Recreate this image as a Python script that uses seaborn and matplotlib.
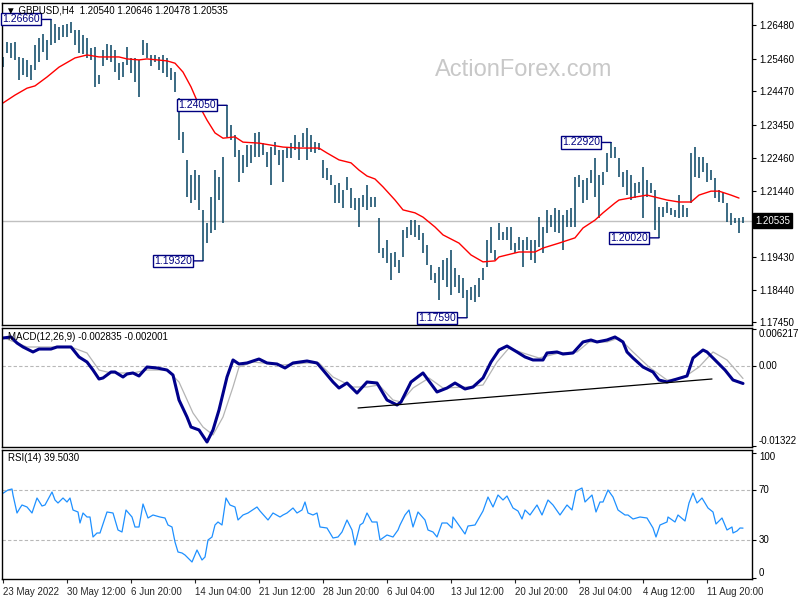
import seaborn as sns
import matplotlib.pyplot as plt
import matplotlib.transforms as mtransforms

sns.set_style("white")
plt.rcParams['font.family'] = ['Liberation Sans', 'DejaVu Sans']

# GBPUSD H4 bars (high / low), one entry every second bar
highs = [1.2552, 1.2597, 1.2594, 1.2597, 1.2552, 1.2549, 1.2543, 1.2527, 1.2588, 1.2609,
         1.2622, 1.2603, 1.2666, 1.2652, 1.2643, 1.2649, 1.2652, 1.2658, 1.2634, 1.2634,
         1.2619, 1.2609, 1.2579, 1.2582, 1.2497, 1.2573, 1.2591, 1.2588, 1.2573, 1.2533,
         1.2537, 1.2582, 1.2549, 1.2549, 1.2543, 1.2603, 1.2594, 1.2558, 1.2558, 1.2552,
         1.2558, 1.2549, 1.2518, 1.2506, 1.2427, 1.2324, 1.2239, 1.2193, 1.2208, 1.2193,
         1.2087, 1.2047, 1.2126, 1.2208, 1.2187, 1.2248, 1.2405, 1.2345, 1.2315, 1.2269,
         1.2254, 1.2284, 1.2284, 1.2321, 1.2324, 1.2290, 1.2263, 1.2278, 1.2293, 1.2269,
         1.2269, 1.2275, 1.2290, 1.2315, 1.2293, 1.2321, 1.2336, 1.2315, 1.2293, 1.2290,
         1.2239, 1.2214, 1.2193, 1.2163, 1.2169, 1.2148, 1.2187, 1.2154, 1.2123, 1.2123,
         1.2132, 1.2163, 1.2126, 1.2126, 1.2062, 1.1971, 1.1995, 1.1956, 1.1959, 1.1935,
         1.2026, 1.2035, 1.2056, 1.2056, 1.2041, 1.2017, 1.1980, 1.1919, 1.1895, 1.1913,
         1.1935, 1.1941, 1.1965, 1.1910, 1.1889, 1.1880, 1.1843, 1.1853, 1.1859, 1.1880,
         1.1910, 1.1995, 1.2035, 1.1965, 1.2047, 1.2020, 1.2035, 1.2035, 1.1986, 1.2005,
         1.1995, 1.2005, 1.1995, 1.1995, 1.2065, 1.2035, 1.2087, 1.2071, 1.2093, 1.2087,
         1.2071, 1.2087, 1.2093, 1.2187, 1.2193, 1.2178, 1.2184, 1.2208, 1.2245, 1.2193,
         1.2202, 1.2260, 1.2292, 1.2278, 1.2245, 1.2202, 1.2208, 1.2193, 1.2169, 1.2172,
         1.2217, 1.2178, 1.2169, 1.2148, 1.2096, 1.2096, 1.2111, 1.2093, 1.2087, 1.2132,
         1.2102, 1.2093, 1.2260, 1.2278, 1.2248, 1.2248, 1.2230, 1.2208, 1.2184, 1.2148,
         1.2139, 1.2108, 1.2078, 1.2062, 1.2062, 1.2065]
lows = [1.2521, 1.2564, 1.2549, 1.2543, 1.2482, 1.2497, 1.2491, 1.2482, 1.2512, 1.2537,
        1.2567, 1.2543, 1.2588, 1.2594, 1.2603, 1.2613, 1.2613, 1.2625, 1.2588, 1.2564,
        1.2561, 1.2549, 1.2543, 1.2461, 1.2470, 1.2524, 1.2543, 1.2537, 1.2506, 1.2482,
        1.2491, 1.2527, 1.2503, 1.2476, 1.2430, 1.2558, 1.2549, 1.2524, 1.2537, 1.2512,
        1.2503, 1.2491, 1.2482, 1.2445, 1.2299, 1.2260, 1.2126, 1.2108, 1.2117, 1.2087,
        1.1932, 1.1986, 1.2017, 1.2026, 1.2117, 1.2047, 1.2309, 1.2299, 1.2248, 1.2172,
        1.2199, 1.2217, 1.2230, 1.2248, 1.2248, 1.2254, 1.2217, 1.2163, 1.2254, 1.2223,
        1.2172, 1.2245, 1.2245, 1.2269, 1.2239, 1.2278, 1.2239, 1.2263, 1.2260, 1.2269,
        1.2184, 1.2178, 1.2163, 1.2108, 1.2108, 1.2093, 1.2148, 1.2093, 1.2087, 1.2035,
        1.2096, 1.2087, 1.2096, 1.2096, 1.1956, 1.1941, 1.1925, 1.1874, 1.1913, 1.1895,
        1.1944, 1.2002, 1.2011, 1.2005, 1.1995, 1.1956, 1.1919, 1.1874, 1.1865, 1.1813,
        1.1874, 1.1853, 1.1828, 1.1853, 1.1834, 1.1819, 1.1759, 1.1813, 1.1807, 1.1822,
        1.1874, 1.1913, 1.1956, 1.1935, 1.1995, 1.1995, 1.1995, 1.1965, 1.1956, 1.1965,
        1.1913, 1.1965, 1.1935, 1.1925, 1.1974, 1.1956, 1.2017, 1.2035, 1.2020, 1.2017,
        1.1965, 1.2035, 1.2035, 1.2035, 1.2157, 1.2108, 1.2117, 1.2169, 1.2126, 1.2062,
        1.2163, 1.2202, 1.2245, 1.2245, 1.2187, 1.2157, 1.2132, 1.2117, 1.2123, 1.2139,
        1.2062, 1.2126, 1.2139, 1.2026, 1.2002, 1.2065, 1.2078, 1.2071, 1.2065, 1.2062,
        1.2065, 1.2065, 1.2108, 1.2187, 1.2184, 1.2202, 1.2172, 1.2178, 1.2123, 1.2111,
        1.2108, 1.2050, 1.2041, 1.2047, 1.2017, 1.2048]
bar_idx = list(range(len(highs)))

# moving average (red)
ma_idx = [0, 3, 6, 8, 11, 14, 18, 21, 24, 27,
          29, 31, 34, 36, 41, 43, 45, 47, 49, 51,
          53, 55, 58, 60, 64, 67, 70, 74, 79, 81,
          84, 87, 89, 91, 93, 95, 98, 100, 103, 105,
          108, 110, 114, 117, 120, 123, 124, 129, 133, 135,
          139, 143, 145, 148, 150, 153, 154, 158, 161, 164,
          166, 169, 172, 174, 177, 179, 182, 184]
ma_val = [1.2412, 1.2436, 1.2457, 1.2464, 1.2491, 1.2521, 1.2549, 1.2558, 1.2552, 1.2552,
          1.2552, 1.2546, 1.2543, 1.2546, 1.2540, 1.2533, 1.2506, 1.2461, 1.2405, 1.2360,
          1.2321, 1.2305, 1.2309, 1.2293, 1.2290, 1.2284, 1.2278, 1.2275, 1.2275, 1.2260,
          1.2239, 1.2230, 1.2208, 1.2190, 1.2181, 1.2157, 1.2117, 1.2087, 1.2078, 1.2065,
          1.2035, 1.2011, 1.1986, 1.1950, 1.1929, 1.1932, 1.1944, 1.1959, 1.1959, 1.1971,
          1.1986, 1.2002, 1.2032, 1.2056, 1.2078, 1.2108, 1.2117, 1.2126, 1.2132, 1.2123,
          1.2117, 1.2111, 1.2111, 1.2132, 1.2144, 1.2144, 1.2132, 1.2123]

# labelled swing highs / lows
swing_idx = [12, 56, 50, 116, 152, 164]
swing_val = [1.2666, 1.2405, 1.1932, 1.1759, 1.2292, 1.2002]
last_price = 1.20535
price_ticks = [1.17450, 1.18440, 1.19430, 1.20420, 1.21440,
               1.22460, 1.23450, 1.24470, 1.25460, 1.26480]

# MACD(12,26,9)
macd_idx = [0, 2, 3.5, 5, 7.5, 9, 12, 13.5, 17, 19,
            21, 22.5, 24, 25, 27, 28, 30, 31, 32.5, 34,
            36, 38.5, 41, 42.5, 44, 46, 47, 49, 51, 52.5,
            54, 56, 57.5, 59, 61, 64, 66, 68.5, 70.5, 72.5,
            76, 78.5, 80, 82.5, 84, 86, 88.5, 91, 93.5, 96,
            98.5, 99.5, 102, 105, 108.5, 111, 113, 115.5, 117.5, 120,
            122, 124, 126, 128.5, 130.5, 132.5, 135, 136, 138.5, 140,
            142.5, 145, 147, 148.5, 151, 153, 155, 156, 157.5, 160,
            162.5, 164, 166, 168.5, 171, 172.5, 175, 176, 178, 180.5,
            182.5, 185]
macd_val = [0.00472, 0.00489, 0.00389, 0.00323, 0.00240, 0.00289, 0.00289, 0.00323, 0.00323, 0.00157,
            0.00073, -0.00060, -0.00209, -0.00192, -0.00093, -0.00093, -0.00176, -0.00126, -0.00109, -0.00159,
            -0.00010, -0.00026, -0.00060, -0.00143, -0.00558, -0.00840, -0.01007, -0.01056, -0.01256, -0.01056,
            -0.00724, -0.00176, 0.00107, 0.00040, 0.00057, 0.00123, 0.00057, 0.00040, -0.00026, 0.00057,
            0.00090, 0.00057, -0.00060, -0.00259, -0.00359, -0.00276, -0.00442, -0.00259, -0.00276, -0.00558,
            -0.00641, -0.00591, -0.00259, -0.00109, -0.00425, -0.00359, -0.00276, -0.00375, -0.00342, -0.00192,
            0.00073, 0.00273, 0.00339, 0.00240, 0.00157, 0.00107, 0.00107, 0.00223, 0.00240, 0.00206,
            0.00223, 0.00406, 0.00439, 0.00406, 0.00439, 0.00489, 0.00406, 0.00240, 0.00140, -0.00010,
            -0.00093, -0.00226, -0.00259, -0.00209, -0.00159, 0.00140, 0.00273, 0.00240, 0.00107, -0.00060,
            -0.00226, -0.002835]
sig_idx = [0, 6, 12, 17, 21, 24, 27, 32.5, 36, 41,
           44, 47.5, 50, 52.5, 55, 57.5, 59, 62.5, 70, 76,
           79, 82.5, 87.5, 91, 94, 97.5, 99.5, 102.5, 106.5, 110,
           116, 120, 123.5, 126.5, 130, 134, 139, 143.5, 146.5, 151,
           154, 157.5, 161.5, 166, 170, 174, 177.5, 181, 185]
sig_val = [0.00480, 0.00323, 0.00323, 0.00323, 0.00223, -0.00060, -0.00109, -0.00109, -0.00060, -0.00060,
           -0.00259, -0.00774, -0.01007, -0.01139, -0.00840, -0.00342, -0.00010, 0.00073, 0.00024, 0.00057,
           0.00057, -0.00176, -0.00342, -0.00342, -0.00309, -0.00558, -0.00591, -0.00359, -0.00193, -0.00359,
           -0.00342, -0.00309, 0.00073, 0.00306, 0.00223, 0.00140, 0.00223, 0.00240, 0.00406, 0.00406,
           0.00472, 0.00240, -0.00010, -0.00226, -0.00193, -0.00010, 0.00240, 0.00107, -0.002001]
trend_idx = [88.75, 177.25]
trend_val = [-0.00691, -0.00209]
macd_max, macd_min = 0.006217, -0.01322

# RSI(14)
rsi_idx = [0, 1.25, 2.25, 2.5, 3.5, 4.25, 4.75, 6, 7.25, 8.5,
           9.75, 10.5, 12.25, 13, 13.75, 15, 16, 16.75, 17.5, 18.75,
           19.25, 20, 21, 21.75, 22.5, 23.5, 24.25, 26, 27.5, 28.75,
           29.75, 30.75, 32.25, 33, 34, 35, 36.25, 37.5, 39.25, 40.5,
           41.25, 42.25, 43, 43.75, 44.75, 45.5, 47.25, 48.5, 49.75, 50.5,
           51.25, 52.25, 53, 53.75, 54.75, 55.75, 56.75, 58, 58.75, 60,
           61.25, 63.5, 64.25, 66.25, 67.5, 69.25, 70, 71, 72.5, 73.5,
           74.75, 75.5, 76.25, 77.5, 78.5, 79.25, 81, 82.5, 83.75, 84.75,
           86, 87.25, 88, 89.25, 90, 91, 92.25, 93.5, 94.25, 96,
           97.5, 98.75, 99.25, 100.5, 101.5, 102.5, 103.75, 105.5, 106.25, 107.5,
           108.5, 109.75, 111, 112.25, 112.5, 113.75, 115.5, 116.25, 118, 120,
           121.25, 122.5, 123.75, 125, 126, 127.5, 128.75, 129.75, 130.5, 131.75,
           133.5, 134.75, 136.25, 137.5, 139.25, 141, 142.25, 143.25, 144.75, 145.5,
           147.25, 148.25, 149.25, 150, 151.25, 152.5, 153.75, 155.5, 156.25, 157.5,
           159.25, 161, 162.5, 163.25, 164.25, 166, 166.25, 168, 168.75, 170.5,
           171.5, 172.5, 173.5, 174.75, 176.25, 177.5, 178.25, 179.75, 181, 182.25,
           182.5, 183.5, 184.25, 185]
rsi_val = [67.4, 70, 70.8, 66, 51.6, 55.6, 58, 56.4, 51.6, 63.6,
           57.2, 58, 68.4, 62, 59.6, 63.6, 60.4, 63.6, 54, 52.4,
           43.6, 51.6, 48.4, 48.4, 32.4, 35.6, 35.6, 52.4, 51.6, 38,
           36.4, 54, 48.4, 40.4, 40.4, 58.8, 47.6, 50, 48.4, 47.6,
           42, 40.4, 28.4, 20.4, 19.6, 18, 12.4, 22, 14, 16.4,
           30, 32.4, 42, 44.4, 42, 63.6, 58, 56.4, 46, 50,
           51.6, 56.4, 53.2, 46, 51.6, 48.4, 50, 51.6, 55.6, 51.6,
           54, 60.4, 51.6, 50, 51.6, 40.4, 39.6, 31.6, 32.4, 36.4,
           46, 38, 26, 42, 43.6, 51.6, 44.4, 44.4, 30, 34,
           32.4, 38, 42, 50, 54, 40.4, 52.4, 46, 38, 36.4,
           32.4, 43.6, 43.6, 39.6, 48.4, 42.8, 34.8, 41.2, 42, 53.2,
           64.4, 56.4, 66, 62, 65.2, 55.6, 53.2, 46.8, 54, 50,
           58, 50, 62, 58, 50, 58, 54, 69.2, 71.6, 60.4,
           66, 52.4, 60.4, 60.4, 70, 64.4, 54, 50, 50, 46.8,
           48.4, 47.6, 39.6, 32.4, 42, 44.4, 48.4, 44.4, 50, 45.2,
           59.6, 67.6, 59.6, 63.6, 55.6, 52.4, 42.8, 47.6, 38, 40.4,
           35.6, 37.2, 39.6, 39.5]

date_idx = [0, 16, 32, 48, 64, 80, 96, 112, 128, 144, 160, 176]
date_labels = ['23 May 2022', '30 May 12:00', '6 Jun 20:00', '14 Jun 04:00',
               '21 Jun 12:00', '28 Jun 20:00', '6 Jul 04:00', '13 Jul 12:00',
               '20 Jul 20:00', '28 Jul 04:00', '4 Aug 12:00', '11 Aug 20:00']

fig = plt.figure(figsize=(8, 6), dpi=100)
ax_p = fig.add_axes([0.0025, 0.4583, 0.9375, 0.5367])
ax_m = fig.add_axes([0.0025, 0.255, 0.9375, 0.1983])
ax_r = fig.add_axes([0.0025, 0.035, 0.9375, 0.215])

for ax in (ax_p, ax_m, ax_r):
    ax.set_xlim(-0.25, 187.25)
    for s in ax.spines.values():
        s.set_color('black')
        s.set_linewidth(1.0)
    ax.yaxis.tick_right()
    ax.tick_params(axis='y', direction='out', length=3, width=0.8,
                   labelsize=7, pad=2, colors='black')

# --- price panel ---
ax_p.axhline(last_price, color='#c0c0c0', lw=1, zorder=0)
ax_p.vlines(bar_idx, lows, highs, color='#0f4a68', lw=1.15)
sns.lineplot(x=ma_idx, y=ma_val, ax=ax_p, color='red', lw=1.0)
ax_p.set_ylim(1.1737, 1.2716)
ax_p.set_xticks([])
ax_p.set_yticks(price_ticks,
                labels=['' if v == 1.20420 else f'{v:.5f}' for v in price_ticks])

for i, v in zip(swing_idx, swing_val):
    ax_p.annotate(f'{v:.5f}', xy=(i, v), xytext=(-11, 0), textcoords='offset pixels',
                  ha='right', va='center', color='#000080', fontsize=7.5,
                  bbox=dict(boxstyle='square,pad=0.1', fc='white', ec='#000080', lw=1),
                  arrowprops=dict(arrowstyle='-', color='#000080', lw=1,
                                  shrinkA=0, shrinkB=0))

tr = mtransforms.blended_transform_factory(ax_p.transAxes, ax_p.transData)
ax_p.text(1.004, last_price, f'{last_price:.5f}', transform=tr, ha='left', va='center',
          color='white', fontsize=7, clip_on=False, zorder=10,
          bbox=dict(boxstyle='square,pad=0.25', fc='black', ec='black'))
ax_p.text(0.006, 0.993, '\u25bc GBPUSD,H4  1.20540 1.20646 1.20478 1.20535',
          transform=ax_p.transAxes, ha='left', va='top', fontsize=7, color='black')
fig.text(524 / 800, 1 - 70 / 600, 'ActionForex.com', ha='center', va='center',
         fontsize=17, color='#c8c8c8')

# --- MACD panel ---
ax_m.axhline(0, color='#b8b8b8', lw=0.8, ls=(0, (3, 2)), zorder=0)
sns.lineplot(x=sig_idx, y=sig_val, ax=ax_m, color='#b4b4b4', lw=0.9)
sns.lineplot(x=macd_idx, y=macd_val, ax=ax_m, color='#00008b', lw=2.2)
sns.lineplot(x=trend_idx, y=trend_val, ax=ax_m, color='black', lw=0.9)
ax_m.set_ylim(-0.01339, 0.00638)
ax_m.set_xticks([])
ax_m.set_yticks([macd_min, 0, macd_max], labels=['-0.01322', '0.00', '0.006217'])
for lab, va in zip(ax_m.get_yticklabels(), ['bottom', 'center', 'top']):
    lab.set_va(va)
ax_m.text(0.008, 0.965, 'MACD(12,26,9) -0.002835 -0.002001', transform=ax_m.transAxes,
          ha='left', va='top', fontsize=7, color='black')

# --- RSI panel ---
for lvl in (30, 70):
    ax_r.axhline(lvl, color='#b8b8b8', lw=0.8, ls=(0, (3, 2)), zorder=0)
sns.lineplot(x=rsi_idx, y=rsi_val, ax=ax_r, color='#1e90ff', lw=0.9)
ax_r.set_ylim(-1.2, 102)
ax_r.set_yticks([0, 30, 70, 100], labels=['0', '30', '70', '100'])
for lab, va in zip(ax_r.get_yticklabels(), ['bottom', 'center', 'center', 'top']):
    lab.set_va(va)
ax_r.text(0.008, 0.975, 'RSI(14) 39.5030', transform=ax_r.transAxes,
          ha='left', va='top', fontsize=7, color='black')
ax_r.set_xticks(date_idx, labels=date_labels)
ax_r.tick_params(axis='x', direction='out', length=3, width=0.8, labelsize=7, pad=3,
                 bottom=True)
for lab in ax_r.get_xticklabels():
    lab.set_ha('left')

for ax in (ax_p, ax_m, ax_r):
    ax.set_xlabel(None)
    ax.set_ylabel(None)

fig.savefig('out.png', dpi=100, facecolor='white')
